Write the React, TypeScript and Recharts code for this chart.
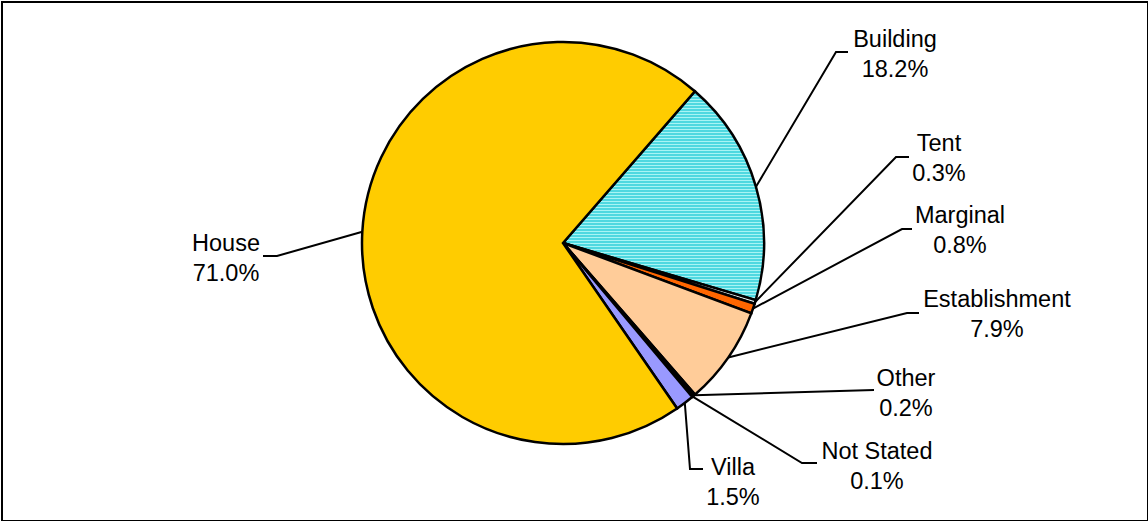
import React from 'react';
import { PieChart, Pie, Cell } from 'recharts';

const categories = ['Building', 'Tent', 'Marginal', 'Establishment', 'Other', 'Not Stated', 'Villa', 'House'];
const shares = [18.2, 0.3, 0.8, 7.9, 0.2, 0.1, 1.5, 71.0];
const percentLabels = ['18.2%', '0.3%', '0.8%', '7.9%', '0.2%', '0.1%', '1.5%', '71.0%'];

const colors = ['url(#stripes)', '#e8f4f4', '#ff6600', '#ffcc99', '#3366ff', '#000080', '#9999ff', '#ffcc00'];

// label layout relative to the pie centre: elbow point, end of horizontal tick, text centre, first line centre
const labelLayout = [
  { ex: 273, ey: -191, hx: 285, tx: 332, ty: -205 },
  { ex: 333, ey: -86, hx: 346, tx: 376, ty: -101 },
  { ex: 339, ey: -14, hx: 349, tx: 397, ty: -29 },
  { ex: 344, ey: 70, hx: 356, tx: 434, ty: 55 },
  { ex: 311, ey: 147, hx: 311, tx: 343, ty: 134 },
  { ex: 239, ey: 220, hx: 254, tx: 314, ty: 207 },
  { ex: 127, ey: 226, hx: 140, tx: 170, ty: 223 },
  { ex: -286, ey: 13, hx: -300, tx: -337, ty: -1 },
];

const data = categories.map((name, i) => ({ name, value: shares[i], pct: percentLabels[i] }));

const RAD = Math.PI / 180;
const FONT = 'Liberation Sans, Arial, sans-serif';

const renderLabel = (props: any) => {
  const { cx, cy, midAngle, outerRadius, index } = props;
  const L = labelLayout[index];
  const sx = cx + outerRadius * Math.cos(-midAngle * RAD);
  const sy = cy + outerRadius * Math.sin(-midAngle * RAD);
  const ex = cx + L.ex;
  const ey = cy + L.ey;
  const hx = cx + L.hx;
  const tx = cx + L.tx;
  const ty = cy + L.ty;
  return (
    <g key={`lbl-${index}`}>
      <polyline points={`${sx},${sy} ${ex},${ey} ${hx},${ey}`} fill="none" stroke="#000" strokeWidth={2} />
      <text x={tx} y={ty + 8.5} textAnchor="middle" fontFamily={FONT} fontSize={23.5} fill="#000">
        {categories[index]}
      </text>
      <text x={tx} y={ty + 38.5} textAnchor="middle" fontFamily={FONT} fontSize={23.5} fill="#000">
        {percentLabels[index]}
      </text>
    </g>
  );
};

export default function App() {
  return (
    <div style={{ position: 'absolute', left: 0, top: 0, width: 1148, height: 521, background: '#fff' }}>
      <div
        style={{
          position: 'absolute',
          left: 1,
          top: 1,
          width: 1144,
          height: 517,
          border: '2px solid #000',
          boxSizing: 'content-box',
        }}
      />
      <div style={{ position: 'absolute', left: 0, top: 0 }}>
        <PieChart width={1148} height={521} margin={{ top: 0, right: 0, bottom: 0, left: 0 }}>
          <defs>
            <pattern id="stripes" patternUnits="userSpaceOnUse" width={8} height={3}>
              <rect x={0} y={0} width={8} height={3} fill="#4fd8e0" />
              <rect x={0} y={0} width={8} height={1} fill="#a8f4f4" />
            </pattern>
          </defs>
          <Pie
            data={data}
            dataKey="value"
            nameKey="name"
            cx={563}
            cy={243}
            outerRadius={201}
            startAngle={49}
            endAngle={-311}
            stroke="#000"
            strokeWidth={2.5}
            label={renderLabel}
            labelLine={false}
            isAnimationActive={false}
          >
            {data.map((d, i) => (
              <Cell key={d.name} fill={colors[i]} stroke="#000" strokeWidth={2.5} />
            ))}
          </Pie>
        </PieChart>
      </div>
    </div>
  );
}
